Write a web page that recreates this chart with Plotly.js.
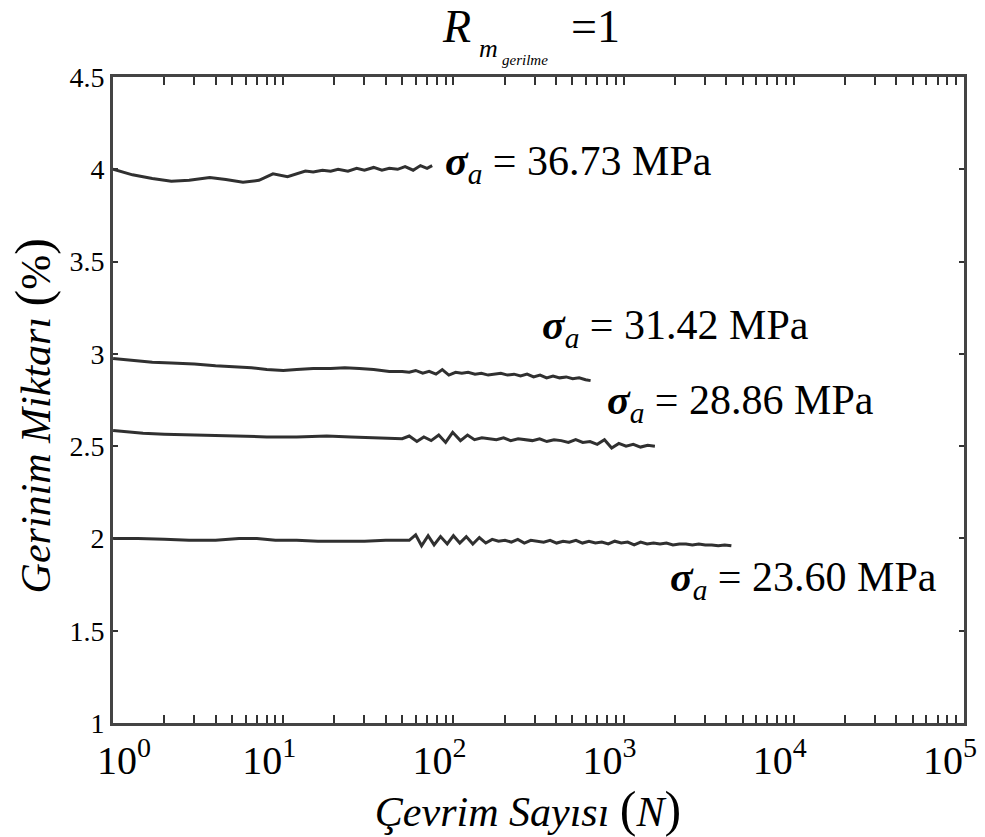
<!DOCTYPE html>
<html>
<head>
<meta charset="utf-8">
<script src="https://cdn.plot.ly/plotly-3.0.1.min.js"></script>
<style>html,body{margin:0;padding:0;background:#fff;}#chart{width:985px;height:837px;}</style>
</head>
<body>
<div id="chart"></div>
<script>
// ---- data ----
const labels = ["σa = 36.73 MPa", "σa = 31.42 MPa", "σa = 28.86 MPa", "σa = 23.60 MPa"];
const stressValues = ["36.73", "31.42", "28.86", "23.60"];

const n1 = [1, 1.3, 1.7, 2.2, 2.8, 3.7, 4.6, 5.8, 7.2, 8.7, 10.6, 12, 13.5, 15, 17, 19, 21, 24, 27, 30, 34, 38, 42, 47, 52, 58, 64, 70, 75];
const e1 = [4.0, 3.97, 3.95, 3.935, 3.94, 3.955, 3.945, 3.93, 3.94, 3.975, 3.96, 3.975, 3.99, 3.985, 3.995, 3.99, 4.0, 3.99, 4.005, 3.995, 4.01, 3.995, 4.005, 4.0, 4.015, 3.995, 4.02, 4.005, 4.02];

const n2 = [1, 1.3, 1.7, 2.2, 3, 4, 5, 6.5, 8, 10, 12, 15, 19, 23, 28, 34, 42, 50,
  55, 60, 66, 72, 79, 86, 94, 103, 112, 122, 134, 146, 160, 175, 190, 208, 227, 248, 271, 296, 323, 353, 385, 421, 460, 502, 548, 598, 640];
const e2 = [2.975, 2.965, 2.955, 2.95, 2.945, 2.935, 2.93, 2.925, 2.915, 2.91, 2.915, 2.92, 2.92, 2.925, 2.92, 2.915, 2.905, 2.905,
  2.90, 2.91, 2.895, 2.905, 2.89, 2.915, 2.885, 2.90, 2.895, 2.90, 2.89, 2.895, 2.885, 2.89, 2.895, 2.885, 2.89, 2.88, 2.89, 2.875, 2.885, 2.87, 2.88, 2.87, 2.875, 2.865, 2.87, 2.86, 2.855];

const n3 = [1, 1.5, 2, 3, 5, 8, 12, 18, 25, 35, 45,
  50, 55, 61, 67, 74, 82, 90, 99, 110, 121, 133, 147, 162, 179, 197, 217, 240, 264, 291, 321, 354, 390, 430, 474, 523, 576, 635, 700, 772, 851, 938, 1034, 1140, 1257, 1386, 1528];
const e3 = [2.585, 2.57, 2.565, 2.56, 2.555, 2.55, 2.55, 2.555, 2.55, 2.545, 2.54,
  2.54, 2.555, 2.525, 2.55, 2.53, 2.56, 2.52, 2.575, 2.53, 2.56, 2.535, 2.545, 2.54, 2.535, 2.545, 2.53, 2.54, 2.535, 2.53, 2.54, 2.525, 2.535, 2.53, 2.52, 2.535, 2.52, 2.525, 2.51, 2.535, 2.49, 2.515, 2.5, 2.51, 2.495, 2.505, 2.5];

const n4 = [1, 1.4, 2, 2.8, 4, 5.5, 7, 9, 12, 16, 22, 30, 40, 50,
  55, 60, 65, 71, 77, 84, 92, 100, 109, 119, 130, 142, 155, 169, 184, 201, 219, 239, 261, 285, 311, 339, 370, 404, 441, 481, 525, 573, 626, 683, 745, 813, 888, 969, 1057, 1154, 1260, 1375, 1500, 1638, 1787, 1950, 2129, 2324, 2536, 2768, 3021, 3297, 3599, 3928, 4300];
const e4 = [2.0, 2.0, 1.995, 1.99, 1.99, 2.0, 2.0, 1.99, 1.99, 1.985, 1.985, 1.985, 1.99, 1.99,
  1.99, 2.02, 1.96, 2.015, 1.965, 2.01, 1.97, 2.015, 1.975, 2.01, 1.97, 2.005, 1.975, 1.995, 1.985, 1.99, 1.98, 1.995, 1.975, 1.99, 1.985, 1.98, 1.99, 1.975, 1.985, 1.98, 1.99, 1.975, 1.985, 1.975, 1.98, 1.97, 1.985, 1.975, 1.98, 1.965, 1.98, 1.97, 1.975, 1.97, 1.975, 1.965, 1.97, 1.97, 1.965, 1.97, 1.965, 1.965, 1.96, 1.965, 1.96];

const xTickVals = [1, 10, 100, 1000, 10000, 100000];
const xTickText = ["&nbsp;&nbsp;&nbsp;&nbsp;&nbsp;10<sup>0</sup>", "10<sup>1</sup>", "10<sup>2</sup>", "10<sup>3</sup>", "10<sup>4</sup>", "10<sup>5</sup>"];
const yTickVals = [1, 1.5, 2, 2.5, 3, 3.5, 4, 4.5];
const yTickText = ["1", "1.5", "2", "2.5", "3", "3.5", "4", "4.5"];

// minor tick positions on the log axis: 2..9 within each decade
const minorVals = [];
for (let d = 0; d < 5; d++) for (let k = 2; k <= 9; k++) minorVals.push(k * Math.pow(10, d));

// ---- figure ----
const serif = '"Liberation Serif", "Times New Roman", serif';
const lineStyle = {color: "rgba(25,25,25,0.9)", width: 3};
const seriesX = [n1, n2, n3, n4];
const seriesY = [e1, e2, e3, e4];
const traces = seriesX.map((xs, i) => ({
  x: xs, y: seriesY[i], type: "scatter", mode: "lines",
  line: lineStyle, name: labels[i], showlegend: false, hoverinfo: "skip"
}));

const annPos = [[0.388, 0.866], [0.502, 0.611], [0.578, 0.495], [0.652, 0.221]];
const annotations = stressValues.map((v, i) => ({
  xref: "paper", yref: "paper", x: annPos[i][0], y: annPos[i][1],
  xanchor: "left", yanchor: "middle", showarrow: false,
  text: "<b><i>σ</i></b><sub><i>a</i></sub> = " + v + " MPa",
  font: {family: serif, size: 42, color: "#000"}
}));
// title pieces
annotations.push({xref: "paper", yref: "paper", x: 0.404, y: 1.078, xanchor: "center", yanchor: "middle", showarrow: false,
  text: "<i>R</i>", font: {family: serif, size: 46, color: "#000"}});
annotations.push({xref: "paper", yref: "paper", x: 0.428, y: 1.044, xanchor: "left", yanchor: "middle", showarrow: false,
  text: "<i>m</i>", font: {family: serif, size: 26, color: "#000"}});
annotations.push({xref: "paper", yref: "paper", x: 0.455, y: 1.026, xanchor: "left", yanchor: "middle", showarrow: false,
  text: "<i>gerilme</i>", font: {family: serif, size: 15, color: "#000"}});
annotations.push({xref: "paper", yref: "paper", x: 0.536, y: 1.078, xanchor: "left", yanchor: "middle", showarrow: false,
  text: "=1", font: {family: serif, size: 46, color: "#000"}});

const layout = {
  width: 985, height: 837,
  margin: {l: 113, r: 21, t: 77, b: 114},
  paper_bgcolor: "#fff", plot_bgcolor: "#fff",
  showlegend: false,
  font: {family: serif, color: "#000"},
  xaxis: {
    type: "log", range: [-0.0005, 5.0005],
    tickmode: "array", tickvals: xTickVals, ticktext: xTickText,
    ticks: "inside", ticklen: 8, tickwidth: 2, tickcolor: "#333",
    minor: {tickmode: "array", tickvals: minorVals, ticks: "inside", ticklen: 8, tickwidth: 2, tickcolor: "#333", showgrid: false},
    showline: true, linecolor: "#444", linewidth: 3, mirror: "ticks",
    showgrid: false, zeroline: false, ticklabeloverflow: "allow", ticklabelshift: -14,
    tickfont: {family: serif, size: 40, color: "#000"},
    title: {text: "<i>Çevrim Sayısı</i> <span style='font-size:50px'>(</span><i>N</i><span style='font-size:50px'>)</span>&nbsp;&nbsp;",
      font: {family: serif, size: 42, color: "#000"}, standoff: 0}
  },
  yaxis: {
    range: [1, 4.5],
    tickmode: "array", tickvals: yTickVals, ticktext: yTickText,
    ticks: "inside", ticklen: 5, tickwidth: 2, tickcolor: "#333",
    showline: true, linecolor: "#444", linewidth: 3, mirror: "ticks",
    showgrid: false, zeroline: false,
    tickfont: {family: serif, size: 28, color: "#000"},
    title: {text: "<i>Gerinim Miktarı</i> <span style='font-size:50px'>(</span>%<span style='font-size:50px'>)</span>&nbsp;&nbsp;&nbsp;",
      font: {family: serif, size: 42, color: "#000"}, standoff: 6}
  },
  annotations: annotations
};

Plotly.newPlot("chart", traces, layout, {displayModeBar: false, staticPlot: true});
</script>
</body>
</html>
